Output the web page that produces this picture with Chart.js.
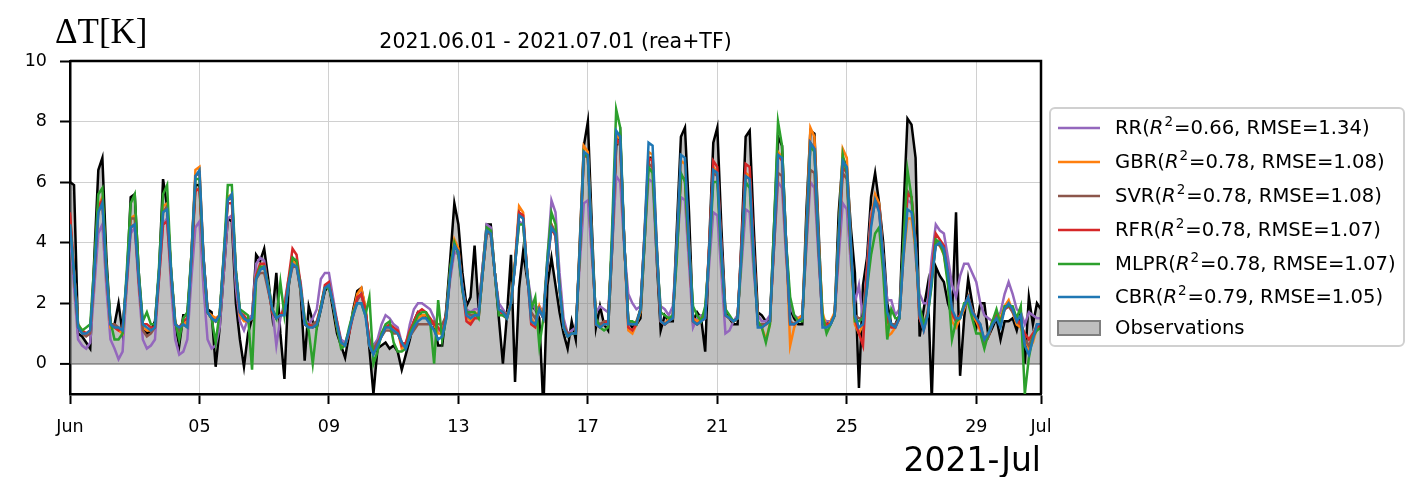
<!DOCTYPE html>
<html>
<head>
<meta charset="utf-8">
<script src="https://cdn.jsdelivr.net/npm/chart.js@4.4.1/dist/chart.umd.min.js"></script>
<style>
    html, body { margin: 0; padding: 0; background: #fff; }
    #wrap { width: 1409px; height: 477px; position: relative; }
</style>
</head>
<body>
<div id="wrap"><canvas id="dtChart"></canvas></div>
<script>
// 3-hourly samples, 2021-06-01 00:00 .. 2021-07-01 00:00
const stepHours = 3;
const tickDays = [0, 4, 8, 12, 16, 20, 24, 28, 30];
const tickLabels = ['Jun', '05', '09', '13', '17', '21', '25', '29', 'Jul'];
const yTicks = [0, 2, 4, 6, 8, 10];

const obs = [
    6.0, 5.9, 1.0, 0.9, 0.7, 0.5, 3.5, 6.4,
    6.8, 3.5, 1.3, 1.3, 2.0, 1.0, 2.6, 5.5,
    5.6, 3.0, 1.2, 1.0, 1.1, 1.4, 3.0, 6.1,
    5.2, 3.0, 1.3, 0.6, 1.6, 1.6, 3.5, 5.9,
    5.9, 3.5, 1.8, 1.7, -0.1, 1.2, 3.0, 4.8,
    4.7, 2.0, 0.8, -0.1, 1.0, 1.5, 3.6, 3.4,
    3.8, 2.8, 1.6, 3.0, 1.0, -0.5, 2.5, 3.5,
    3.3, 2.4, 0.1, 1.9, 1.4, 1.2, 1.8, 2.4,
    2.6, 1.8, 1.0, 0.6, 0.2, 1.0, 1.8, 2.4,
    2.5, 1.8, 0.5, -1.0, 0.5, 0.6, 0.7, 0.5,
    0.6, 0.4, -0.2, 0.3, 0.8, 1.4, 1.7, 1.6,
    1.6, 1.4, 1.3, 0.6, 0.6, 1.8, 3.5, 5.3,
    4.6, 3.0, 1.9, 2.2, 3.9, 1.8, 3.2, 4.6,
    4.6, 3.0, 1.5, 0.0, 1.6, 3.6, -0.6, 2.5,
    3.7, 2.8, 1.9, 1.8, 1.5, -1.5, 2.6, 3.5,
    2.6, 1.7, 1.0, 0.5, 1.4, 0.8, 4.0, 7.2,
    8.0, 4.5, 1.2, 1.9, 1.3, 1.1, 3.8, 7.2,
    7.6, 4.0, 1.4, 1.2, 1.3, 1.5, 4.0, 6.8,
    6.8, 3.5, 1.1, 1.6, 1.4, 1.4, 4.5, 7.5,
    7.8, 5.0, 1.4, 1.7, 1.5, 0.4, 4.0, 7.3,
    7.8, 4.5, 1.7, 1.5, 1.3, 1.3, 4.2, 7.5,
    7.7, 4.5, 1.7, 1.6, 1.4, 1.4, 4.5, 7.5,
    7.2, 4.0, 1.8, 1.5, 1.3, 1.3, 5.0, 7.7,
    7.6, 4.5, 1.4, 1.3, 1.4, 1.6, 5.0, 6.8,
    6.5, 4.5, 3.0, -0.8, 2.6, 3.5, 5.5, 6.3,
    5.3, 4.0, 2.0, 1.3, 1.3, 1.6, 5.0, 8.1,
    7.9, 6.8, 0.9, 1.8, 2.6, -1.2, 3.2, 2.9,
    2.7, 2.0, 1.6, 5.0, -0.4, 1.5, 2.8, 2.0,
    1.2, 2.0, 2.0, 0.9, 1.2, 1.5, 0.8, 1.4,
    1.4, 1.5, 1.1, 1.7, 0.0, 2.2, 1.3, 2.0,
    1.8,
];

const rr = [
    4.3, 2.5, 0.8, 0.6, 0.5, 0.7, 2.5, 4.3,
    4.6, 2.5, 0.8, 0.5, 0.15, 0.4, 2.5, 4.3,
    4.5, 2.5, 0.8, 0.5, 0.6, 0.8, 2.8, 4.6,
    4.8, 2.5, 0.8, 0.3, 0.4, 0.8, 2.8, 4.5,
    4.7, 2.5, 0.8, 0.5, 0.6, 1.2, 3.0, 4.8,
    4.9, 2.5, 1.4, 1.1, 1.5, 1.6, 3.3, 3.5,
    3.4, 2.5, 1.8, 0.6, 1.5, 2.0, 2.8, 3.2,
    3.3, 2.7, 1.5, 1.3, 1.5, 1.8, 2.8, 3.0,
    3.0, 2.2, 1.4, 0.8, 0.7, 1.1, 1.7, 2.1,
    2.3, 1.7, 0.8, 0.6, 0.8, 1.3, 1.6, 1.5,
    1.3, 1.2, 0.7, 0.6, 1.3, 1.8, 2.0, 2.0,
    1.9, 1.8, 1.5, 1.1, 1.1, 1.6, 2.8, 3.7,
    3.6, 2.5, 1.8, 1.7, 1.8, 1.8, 3.2, 4.6,
    4.5, 3.0, 2.0, 1.8, 1.6, 2.0, 3.3, 4.7,
    4.6, 3.0, 2.1, 1.8, 1.9, 1.7, 3.5, 5.4,
    5.0, 3.0, 1.5, 1.0, 1.1, 1.2, 3.3, 5.3,
    5.4, 3.5, 1.7, 1.9, 1.8, 1.7, 3.8, 6.2,
    6.0, 3.8, 2.3, 2.0, 1.8, 1.9, 4.0, 6.1,
    6.0, 3.5, 1.9, 1.8, 1.6, 1.9, 3.8, 5.5,
    5.4, 3.3, 1.2, 1.5, 1.6, 1.6, 3.3, 5.0,
    4.9, 3.0, 1.0, 1.1, 1.4, 1.6, 3.3, 5.1,
    5.0, 3.0, 1.6, 1.4, 1.4, 1.6, 3.8, 6.0,
    5.8, 3.5, 1.9, 1.6, 1.5, 1.6, 3.8, 6.0,
    5.8, 3.5, 1.5, 1.4, 1.4, 1.6, 3.5, 5.3,
    5.1, 3.3, 2.0, 2.6, 1.5, 3.2, 5.0, 5.4,
    5.2, 3.5, 2.1, 2.1, 1.6, 1.8, 3.8, 5.4,
    5.3, 3.5, 2.3, 2.0, 2.0, 3.5, 4.6, 4.4,
    4.3, 3.5, 2.6, 2.2, 2.9, 3.3, 3.3, 3.0,
    2.7, 2.0, 1.6, 1.5, 1.4, 1.5, 1.7, 2.3,
    2.7, 2.3, 1.8, 1.7, 1.3, 1.7, 1.6, 1.5,
    1.5,
];

const gbr = [
    4.7, 3.0, 1.3, 1.1, 1.0, 1.1, 3.0, 5.2,
    5.5, 3.0, 1.2, 1.2, 1.1, 1.0, 2.8, 4.8,
    4.9, 2.8, 1.2, 1.1, 1.1, 1.2, 3.0, 5.2,
    5.3, 3.0, 1.4, 1.0, 1.4, 1.3, 3.6, 6.4,
    6.5, 3.5, 1.7, 1.6, 1.5, 1.6, 3.5, 5.5,
    5.6, 3.0, 1.6, 1.4, 1.4, 1.5, 2.9, 3.2,
    3.2, 2.5, 1.8, 1.5, 1.6, 1.8, 2.7, 3.4,
    3.3, 2.5, 1.3, 1.2, 1.3, 1.3, 1.9, 2.5,
    2.6, 2.0, 1.2, 0.6, 0.6, 1.1, 1.7, 2.3,
    2.5, 1.9, 0.6, 0.3, 0.6, 0.9, 1.2, 1.2,
    1.1, 1.1, 0.5, 0.6, 0.9, 1.2, 1.5, 1.6,
    1.6, 1.5, 1.3, 1.0, 1.0, 1.6, 3.1, 4.1,
    3.8, 2.5, 1.6, 1.4, 1.7, 1.6, 3.0, 4.4,
    4.3, 3.0, 1.8, 1.7, 1.6, 2.0, 3.4, 5.2,
    5.0, 3.0, 1.5, 1.3, 1.9, 1.5, 3.3, 4.6,
    4.3, 2.5, 1.2, 0.9, 1.0, 1.0, 3.9, 7.2,
    7.0, 4.0, 1.3, 1.2, 1.3, 1.3, 4.0, 7.6,
    7.4, 4.0, 1.1, 1.0, 1.3, 1.7, 4.3, 7.0,
    6.9, 4.0, 1.4, 1.3, 1.5, 1.5, 4.0, 6.7,
    6.6, 4.0, 1.5, 1.4, 1.5, 1.6, 3.9, 6.5,
    6.3, 3.8, 1.6, 1.5, 1.4, 1.5, 3.8, 6.3,
    6.2, 3.6, 1.4, 1.2, 0.8, 1.3, 4.0, 7.0,
    6.8, 4.0, 0.6, 1.2, 1.5, 1.6, 4.5, 7.8,
    7.5, 4.2, 1.7, 1.2, 1.4, 1.7, 4.3, 7.1,
    6.8, 4.0, 1.3, 1.0, 1.3, 3.0, 4.8, 5.6,
    5.3, 3.5, 0.9, 1.0, 1.2, 1.5, 3.5, 4.8,
    4.8, 3.8, 1.5, 1.2, 1.6, 2.8, 4.0, 3.9,
    3.6, 2.8, 1.4, 1.2, 1.5, 1.8, 2.2, 1.6,
    1.4, 1.1, 0.7, 0.9, 1.4, 1.7, 1.5, 1.9,
    2.1, 1.7, 1.3, 1.2, 0.8, 0.5, 0.7, 1.2,
    1.2,
];

const svr = [
    4.9, 3.0, 1.2, 1.0, 0.9, 1.0, 3.0, 5.0,
    5.4, 3.0, 1.3, 1.3, 1.2, 1.1, 2.8, 4.8,
    4.8, 2.8, 1.1, 0.9, 1.0, 1.2, 3.0, 5.0,
    5.2, 3.0, 1.3, 1.1, 1.3, 1.2, 3.6, 6.2,
    6.3, 3.5, 1.7, 1.5, 1.4, 1.6, 3.5, 5.4,
    5.5, 3.0, 1.7, 1.5, 1.4, 1.5, 2.8, 3.0,
    3.0, 2.4, 1.8, 1.5, 1.6, 1.7, 2.6, 3.2,
    3.2, 2.4, 1.3, 1.2, 1.3, 1.4, 1.9, 2.5,
    2.6, 2.0, 1.3, 0.7, 0.6, 1.1, 1.6, 2.1,
    2.3, 1.8, 0.8, 0.5, 0.7, 0.9, 1.1, 1.1,
    1.0, 1.0, 0.7, 0.6, 0.9, 1.1, 1.3, 1.3,
    1.3, 1.3, 1.4, 1.3, 1.3, 1.6, 3.0, 3.9,
    3.7, 2.5, 1.7, 1.6, 1.6, 1.6, 3.0, 4.3,
    4.3, 3.0, 1.8, 1.7, 1.6, 2.0, 3.3, 5.0,
    4.8, 3.0, 1.7, 1.5, 1.8, 1.5, 3.3, 4.6,
    4.3, 2.5, 1.3, 1.0, 1.0, 1.0, 3.7, 6.9,
    6.8, 4.0, 1.4, 1.3, 1.4, 1.4, 4.0, 7.4,
    7.2, 4.0, 1.4, 1.3, 1.4, 1.8, 4.2, 6.6,
    6.5, 3.8, 1.4, 1.3, 1.4, 1.5, 3.8, 6.2,
    6.1, 3.8, 1.4, 1.3, 1.4, 1.6, 3.8, 6.3,
    6.2, 3.8, 1.6, 1.5, 1.4, 1.5, 3.8, 6.2,
    6.1, 3.6, 1.3, 1.3, 1.3, 1.4, 3.8, 6.3,
    6.2, 3.8, 1.4, 1.3, 1.4, 1.5, 4.0, 6.4,
    6.3, 3.8, 1.4, 1.3, 1.3, 1.6, 4.0, 6.3,
    6.1, 3.8, 1.6, 1.5, 1.5, 3.0, 4.7, 5.4,
    5.2, 3.5, 1.5, 1.3, 1.3, 1.5, 3.7, 5.7,
    5.5, 4.0, 1.6, 1.3, 1.7, 2.8, 4.0, 3.9,
    3.7, 3.0, 1.7, 1.4, 1.6, 1.9, 2.2, 1.8,
    1.5, 1.3, 0.7, 0.9, 1.3, 1.5, 1.4, 1.8,
    1.9, 1.7, 1.4, 1.3, 0.8, 0.6, 0.9, 1.3,
    1.3,
];

const rfr = [
    5.0, 3.0, 1.2, 1.1, 1.0, 1.1, 3.0, 5.2,
    5.4, 3.0, 1.3, 1.2, 1.1, 1.2, 2.7, 4.5,
    4.6, 2.7, 1.3, 1.3, 1.2, 1.2, 2.8, 4.6,
    4.7, 2.9, 1.3, 1.2, 1.4, 1.5, 3.4, 5.7,
    5.8, 3.4, 1.7, 1.5, 1.4, 1.6, 3.4, 5.3,
    5.3, 3.0, 1.7, 1.6, 1.4, 1.5, 2.9, 3.3,
    3.3, 2.5, 1.7, 1.5, 1.6, 1.8, 2.8, 3.8,
    3.6, 2.6, 1.3, 1.3, 1.2, 1.3, 1.9, 2.6,
    2.7, 2.0, 1.4, 0.7, 0.6, 1.0, 1.6, 2.2,
    2.3, 1.8, 0.7, 0.4, 0.6, 1.0, 1.2, 1.3,
    1.2, 1.1, 0.6, 0.7, 1.1, 1.4, 1.7, 1.8,
    1.7, 1.5, 1.3, 1.2, 1.0, 1.6, 3.0, 3.9,
    3.7, 2.5, 1.4, 1.3, 1.5, 1.5, 3.0, 4.4,
    4.3, 3.0, 1.8, 1.6, 1.5, 2.0, 3.3, 5.0,
    4.9, 3.0, 1.3, 1.2, 1.8, 1.5, 3.3, 4.5,
    4.2, 2.5, 1.2, 0.9, 1.0, 1.0, 3.7, 6.9,
    6.8, 4.0, 1.3, 1.2, 1.3, 1.4, 4.0, 7.4,
    7.3, 4.0, 1.2, 1.1, 1.3, 1.8, 4.2, 6.8,
    6.7, 3.8, 1.4, 1.3, 1.4, 1.6, 3.8, 6.2,
    6.1, 3.8, 1.4, 1.3, 1.4, 1.5, 3.9, 6.7,
    6.5, 3.9, 1.6, 1.5, 1.4, 1.5, 4.0, 6.6,
    6.5, 3.8, 1.3, 1.2, 1.3, 1.4, 4.0, 6.9,
    6.7, 4.0, 1.3, 1.3, 1.4, 1.5, 4.3, 7.3,
    7.1, 4.0, 1.3, 1.3, 1.3, 1.6, 4.1, 6.5,
    6.3, 3.8, 1.5, 1.0, 0.6, 3.0, 4.7, 5.3,
    5.1, 3.4, 1.4, 1.2, 1.2, 1.5, 3.8, 5.6,
    5.5, 4.0, 1.5, 1.1, 1.7, 3.0, 4.3, 4.1,
    3.9, 3.0, 1.7, 1.4, 1.6, 1.9, 2.2, 1.7,
    1.5, 1.2, 0.8, 1.0, 1.4, 1.6, 1.4, 1.8,
    1.9, 1.8, 1.5, 1.3, 1.0, 0.8, 1.0, 1.2,
    1.3,
];

const mlpr = [
    4.6, 3.0, 1.3, 1.1, 1.2, 1.3, 3.3, 5.6,
    5.8, 3.2, 1.4, 0.8, 0.8, 1.0, 3.0, 5.3,
    5.6, 3.0, 1.4, 1.7, 1.3, 1.3, 3.2, 5.6,
    5.9, 3.1, 1.4, 0.8, 1.5, 1.7, 3.6, 6.1,
    6.1, 3.4, 1.7, 1.5, 0.7, 1.7, 3.6, 5.9,
    5.9, 3.1, 1.8, 1.7, 1.6, -0.2, 2.8, 3.2,
    3.2, 2.6, 1.8, 1.5, 2.7, 1.6, 2.6, 3.5,
    3.4, 2.5, 1.5, 1.1, 0.0, 1.2, 1.9, 2.5,
    2.5, 2.0, 1.2, 0.5, 0.6, 1.2, 1.7, 2.0,
    2.0, 1.6, 2.2, 0.0, 0.4, 1.0, 1.3, 1.4,
    0.7, 0.4, 0.4, 0.5, 1.0, 1.3, 1.6, 1.7,
    1.7, 1.4, 0.0, 2.1, 0.8, 1.5, 3.2, 4.0,
    3.6, 2.4, 1.7, 1.7, 1.7, 1.5, 3.0, 4.5,
    4.4, 3.0, 1.6, 1.6, 1.5, 2.0, 3.3, 4.6,
    4.6, 3.0, 1.8, 2.2, 0.6, 1.5, 3.5, 5.0,
    4.6, 2.5, 1.2, 0.9, 1.0, 1.0, 3.7, 7.0,
    6.8, 4.0, 1.5, 1.2, 1.1, 1.2, 4.5, 8.4,
    7.8, 4.0, 1.4, 1.4, 1.3, 1.8, 4.0, 6.5,
    6.3, 3.8, 1.7, 1.6, 1.5, 1.6, 3.5, 6.3,
    6.0, 3.8, 1.9, 1.6, 1.4, 1.9, 3.6, 6.0,
    6.0, 3.5, 1.8, 1.6, 1.4, 1.5, 3.6, 6.0,
    5.8, 3.4, 1.4, 1.2, 0.7, 1.3, 4.5, 8.0,
    7.2, 4.0, 2.2, 1.6, 1.4, 1.4, 4.3, 7.2,
    7.0, 4.0, 1.6, 1.0, 1.3, 1.6, 4.3, 6.9,
    6.3, 3.8, 1.4, 1.4, 1.5, 2.5, 3.6, 4.3,
    4.5, 3.0, 0.8, 1.8, 1.5, 1.5, 4.0, 6.4,
    5.5, 3.8, 1.9, 1.3, 1.6, 2.6, 4.1, 4.0,
    3.6, 2.6, 0.8, 1.4, 1.5, 2.0, 2.0, 1.5,
    1.0, 1.0, 0.5, 1.0, 1.4, 1.8, 1.3, 1.9,
    1.9, 1.9, 1.5, 1.9, -1.0, 0.2, 0.9, 1.1,
    1.2,
];

const cbr = [
    4.6, 3.0, 1.2, 1.0, 1.0, 1.1, 3.0, 5.0,
    5.3, 3.0, 1.3, 1.2, 1.2, 1.1, 2.8, 4.5,
    4.6, 2.8, 1.3, 1.2, 1.1, 1.2, 3.0, 5.0,
    5.1, 3.0, 1.3, 1.2, 1.3, 1.2, 3.5, 6.2,
    6.4, 3.5, 1.7, 1.5, 1.4, 1.6, 3.5, 5.4,
    5.6, 3.0, 1.7, 1.5, 1.4, 1.5, 2.8, 3.1,
    3.2, 2.5, 1.8, 1.5, 1.6, 1.6, 2.6, 3.3,
    3.2, 2.5, 1.3, 1.2, 1.2, 1.3, 1.8, 2.5,
    2.6, 2.0, 1.3, 0.7, 0.6, 1.1, 1.6, 2.0,
    2.0, 1.6, 0.6, 0.3, 0.6, 0.9, 1.2, 1.2,
    1.1, 1.0, 0.7, 0.5, 0.9, 1.2, 1.4, 1.5,
    1.5, 1.3, 1.1, 0.8, 0.9, 1.5, 3.0, 3.9,
    3.7, 2.5, 1.6, 1.5, 1.6, 1.6, 3.0, 4.4,
    4.3, 3.0, 1.8, 1.7, 1.5, 2.0, 3.2, 4.9,
    4.8, 3.0, 1.4, 1.3, 1.8, 1.5, 3.3, 4.5,
    4.3, 2.5, 1.2, 0.9, 1.0, 1.0, 3.8, 7.0,
    6.9, 4.0, 1.3, 1.2, 1.3, 1.3, 4.0, 7.7,
    7.5, 4.0, 1.3, 1.3, 1.3, 1.8, 4.3, 7.3,
    7.2, 4.0, 1.4, 1.3, 1.4, 1.5, 4.0, 6.9,
    6.8, 4.0, 1.4, 1.3, 1.4, 1.5, 3.8, 6.4,
    6.3, 3.8, 1.6, 1.5, 1.4, 1.5, 3.8, 6.2,
    6.1, 3.6, 1.2, 1.2, 1.3, 1.4, 4.0, 6.9,
    6.8, 4.0, 1.3, 1.3, 1.4, 1.5, 4.3, 7.3,
    7.1, 4.0, 1.2, 1.2, 1.3, 1.6, 4.2, 6.7,
    6.5, 4.0, 1.6, 1.2, 1.3, 2.5, 4.5, 5.4,
    5.0, 3.5, 1.7, 1.3, 1.2, 1.5, 3.5, 5.1,
    5.0, 4.0, 1.6, 1.1, 1.6, 2.8, 3.9, 4.0,
    3.8, 3.0, 1.8, 1.5, 1.5, 1.9, 2.2, 1.7,
    1.5, 1.3, 0.8, 1.0, 1.3, 1.5, 1.2, 1.8,
    2.0, 1.8, 1.4, 1.6, 0.6, 0.3, 0.8, 1.3,
    1.3,
];

const modelNames = ['RR', 'GBR', 'SVR', 'RFR', 'MLPR', 'CBR'];
const modelR2 = ['0.66', '0.78', '0.78', '0.78', '0.78', '0.79'];
const modelRmse = ['1.34', '1.08', '1.08', '1.07', '1.07', '1.05'];
const modelColors = ['#9467bd', '#ff7f0e', '#8c564b', '#d62728', '#2ca02c', '#1f77b4'];
const modelValues = [rr, gbr, svr, rfr, mlpr, cbr];

const toPoints = (vals) => vals.map((v, i) => ({ x: (i * stepHours) / 24, y: v }));

const FONT = "'DejaVu Sans', sans-serif";

// frame, labels and legend drawn on top of the plot
const decorPlugin = {
    id: 'decor',
    afterDraw(chart) {
        const { ctx, chartArea: a } = chart;
        ctx.save();

        // top and right spines
        ctx.strokeStyle = '#000';
        ctx.lineWidth = 2.5;
        ctx.beginPath();
        ctx.moveTo(a.left, a.top);
        ctx.lineTo(a.right, a.top);
        ctx.lineTo(a.right, a.bottom);
        ctx.stroke();

        ctx.fillStyle = '#000';
        ctx.textBaseline = 'alphabetic';

        ctx.font = "35px 'Liberation Serif', serif";
        ctx.textAlign = 'left';
        ctx.fillText('ΔT[K]', 55, 43);

        ctx.font = '20.5px ' + FONT;
        ctx.textAlign = 'center';
        ctx.fillText('2021.06.01 - 2021.07.01 (rea+TF)', (a.left + a.right) / 2, 48);

        ctx.font = '33px ' + FONT;
        ctx.textAlign = 'right';
        ctx.fillText('2021-Jul', a.right, 471);

        // legend box
        const bx = 1050, by = 108, bw = 354, bh = 238;
        ctx.beginPath();
        ctx.roundRect(bx, by, bw, bh, 5);
        ctx.fillStyle = 'rgba(255,255,255,0.8)';
        ctx.fill();
        ctx.strokeStyle = '#d0d0d0';
        ctx.lineWidth = 2;
        ctx.stroke();

        const rowY = [128, 162, 196, 230, 264, 297];
        ctx.textAlign = 'left';
        ctx.textBaseline = 'middle';
        modelNames.forEach((name, k) => {
            const y = rowY[k];
            ctx.strokeStyle = modelColors[k];
            ctx.lineWidth = 2.6;
            ctx.beginPath();
            ctx.moveTo(1058, y);
            ctx.lineTo(1100, y);
            ctx.stroke();

            ctx.fillStyle = '#000';
            let x = 1115;
            const ty = y + 1;
            ctx.font = '19.6px ' + FONT;
            const p1 = name + '(';
            ctx.fillText(p1, x, ty);
            x += ctx.measureText(p1).width;
            ctx.font = 'italic 19.6px ' + FONT;
            ctx.fillText('R', x, ty);
            x += ctx.measureText('R').width + 1;
            ctx.font = '13.5px ' + FONT;
            ctx.fillText('2', x, ty - 7);
            x += ctx.measureText('2').width + 1;
            ctx.font = '19.6px ' + FONT;
            ctx.fillText('=' + modelR2[k] + ', RMSE=' + modelRmse[k] + ')', x, ty);
        });

        ctx.fillStyle = '#bfbfbf';
        ctx.fillRect(1058, 321, 42, 14);
        ctx.strokeStyle = '#7f7f7f';
        ctx.lineWidth = 2;
        ctx.strokeRect(1058, 321, 42, 14);
        ctx.fillStyle = '#000';
        ctx.font = '19.6px ' + FONT;
        ctx.fillText('Observations', 1115, 329);

        ctx.restore();
    },
};

const datasets = modelNames.map((name, k) => ({
    label: name,
    data: toPoints(modelValues[k]),
    borderColor: modelColors[k],
    borderWidth: 2.5,
    pointRadius: 0,
    tension: 0,
    fill: false,
    order: 6 - k,
}));

datasets.push({
    label: 'Observations',
    data: toPoints(obs),
    borderColor: '#000',
    borderWidth: 2.5,
    backgroundColor: 'rgba(128,128,128,0.5)',
    fill: 'origin',
    pointRadius: 0,
    tension: 0,
    order: 10,
});

const tickFont = { family: FONT, size: 17.5 };

new Chart(document.getElementById('dtChart'), {
    type: 'line',
    data: { datasets },
    options: {
        responsive: true,
        maintainAspectRatio: false,
        animation: false,
        layout: { autoPadding: false, padding: { left: 0, right: 368, top: 61, bottom: 0 } },
        plugins: {
            legend: { display: false },
            tooltip: { enabled: false },
        },
        scales: {
            x: {
                type: 'linear',
                min: 0,
                max: 30,
                afterBuildTicks: (s) => { s.ticks = tickDays.map((v) => ({ value: v })); },
                afterFit: (s) => { s.height = 83; },
                ticks: {
                    autoSkip: false,
                    maxRotation: 0,
                    padding: 13,
                    color: '#000',
                    font: tickFont,
                    callback: (v) => tickLabels[tickDays.indexOf(v)],
                },
                grid: { color: '#d0d0d0', lineWidth: 1, tickColor: '#000', tickWidth: 2, tickLength: 10 },
                border: { color: '#000', width: 2.5 },
            },
            y: {
                min: -1,
                max: 10,
                afterBuildTicks: (s) => { s.ticks = yTicks.map((v) => ({ value: v })); },
                afterFit: (s) => { s.width = 70; },
                ticks: { padding: 13, color: '#000', font: tickFont },
                grid: {
                    color: (c) => (c.tick && c.tick.value === 0 ? '#8f8f8f' : '#d0d0d0'),
                    lineWidth: (c) => (c.tick && c.tick.value === 0 ? 1.8 : 1),
                    tickColor: '#000',
                    tickWidth: 2,
                    tickLength: 10,
                },
                border: { color: '#000', width: 2.5 },
            },
        },
    },
    plugins: [decorPlugin],
});
</script>
</body>
</html>
